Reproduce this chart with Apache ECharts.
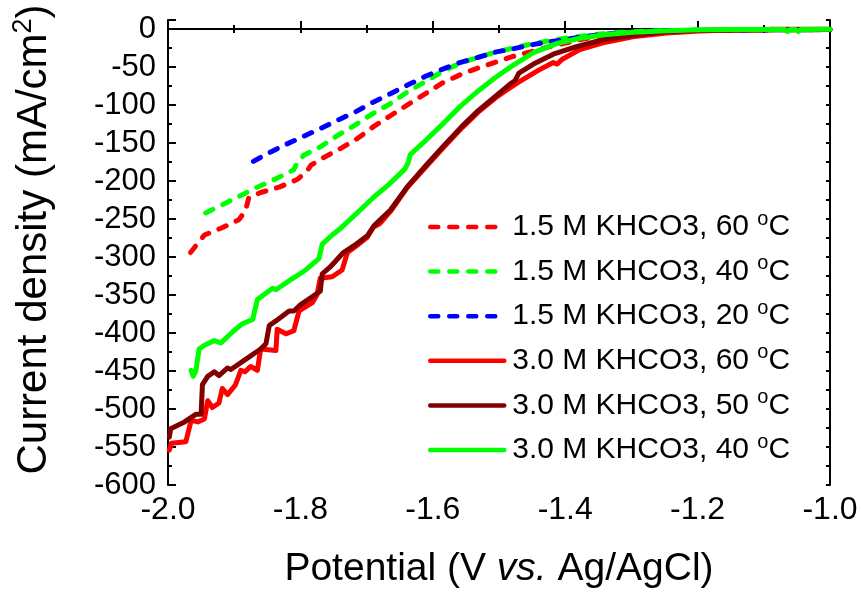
<!DOCTYPE html>
<html>
<head>
<meta charset="utf-8">
<script src="https://cdn.jsdelivr.net/npm/echarts@6/dist/echarts.min.js"></script>
<style>
html,body{margin:0;padding:0;background:#fff;}
#chart{width:861px;height:594px;}
</style>
</head>
<body>
<div id="chart"></div>
<script>
// ---- data: [potential (V vs Ag/AgCl), current density (mA/cm2)] ----
const seriesNames = [
  '1.5 M KHCO3, 60 °C',
  '1.5 M KHCO3, 40 °C',
  '1.5 M KHCO3, 20 °C',
  '3.0 M KHCO3, 60 °C',
  '3.0 M KHCO3, 50 °C',
  '3.0 M KHCO3, 40 °C'
];
const xTicks = [-2.0, -1.8, -1.6, -1.4, -1.2, -1.0];
const yTicks = [-600, -550, -500, -450, -400, -350, -300, -250, -200, -150, -100, -50, 0];

const kh15_60C = [[-1.966,-294],[-1.955,-282],[-1.945,-271],[-1.920,-262],[-1.893,-251],[-1.883,-239],[-1.878,-222],[-1.860,-215],[-1.832,-208],[-1.805,-198],[-1.790,-187],[-1.784,-179],[-1.767,-170],[-1.739,-157],[-1.714,-144],[-1.689,-128],[-1.664,-114],[-1.637,-99],[-1.611,-85],[-1.586,-71],[-1.556,-59],[-1.531,-51],[-1.504,-43],[-1.479,-36],[-1.453,-30],[-1.428,-24],[-1.403,-19],[-1.373,-13],[-1.348,-9.5],[-1.32,-6.5],[-1.28,-4],[-1.24,-2.5],[-1.2,-1.8],[-1.15,-1.3],[-1.1,-1],[-1.05,-0.8],[-1.0,-0.6]];
const kh15_40C = [[-1.943,-242],[-1.918,-231],[-1.890,-219],[-1.865,-208],[-1.837,-197],[-1.810,-185],[-1.805,-176],[-1.795,-166],[-1.770,-155],[-1.744,-140],[-1.717,-126],[-1.692,-112],[-1.664,-98],[-1.639,-83],[-1.611,-69],[-1.586,-56],[-1.559,-45],[-1.531,-37],[-1.504,-30],[-1.479,-25],[-1.453,-20],[-1.428,-16],[-1.40,-12],[-1.373,-9],[-1.348,-6.5],[-1.32,-4.5],[-1.28,-2.8],[-1.24,-2],[-1.2,-1.5],[-1.1,-1],[-1.0,-0.6]];
const kh15_20C = [[-1.871,-174],[-1.850,-164],[-1.825,-153],[-1.795,-141],[-1.770,-131],[-1.744,-120],[-1.717,-109],[-1.692,-97],[-1.664,-85],[-1.639,-74],[-1.611,-62],[-1.586,-53],[-1.559,-44],[-1.531,-37],[-1.504,-30],[-1.479,-26],[-1.453,-21],[-1.428,-17],[-1.401,-14],[-1.373,-10],[-1.348,-7.5],[-1.323,-5.5],[-1.28,-3.5],[-1.24,-2.5],[-1.2,-1.8],[-1.1,-1.1],[-1.0,-0.6]];
const kh30_60C = [[-1.998,-554],[-1.995,-545],[-1.973,-543],[-1.965,-515],[-1.955,-517],[-1.945,-513],[-1.940,-489],[-1.933,-498],[-1.923,-492],[-1.918,-473],[-1.910,-481],[-1.898,-468],[-1.890,-449],[-1.884,-451],[-1.875,-444],[-1.865,-449],[-1.860,-421],[-1.837,-423],[-1.835,-395],[-1.822,-401],[-1.810,-397],[-1.802,-371],[-1.782,-360],[-1.775,-350],[-1.770,-328],[-1.752,-326],[-1.737,-317],[-1.729,-294],[-1.712,-283],[-1.699,-274],[-1.690,-261],[-1.680,-256],[-1.664,-240],[-1.639,-209],[-1.609,-180],[-1.584,-156],[-1.556,-130],[-1.531,-109],[-1.506,-91],[-1.490,-81],[-1.471,-70],[-1.44,-54],[-1.418,-44],[-1.412,-46],[-1.405,-40],[-1.378,-27],[-1.343,-18],[-1.298,-10],[-1.247,-5],[-1.197,-2.5],[-1.148,-1.3],[-1.095,-0.8],[-1.09,-0.3],[-1.0,-0.3]];
const kh30_50C = [[-1.998,-537],[-1.996,-526],[-1.975,-517],[-1.958,-507],[-1.950,-507],[-1.948,-468],[-1.940,-457],[-1.930,-451],[-1.923,-456],[-1.910,-446],[-1.905,-448],[-1.880,-433],[-1.860,-421],[-1.852,-414],[-1.847,-390],[-1.837,-384],[-1.817,-371],[-1.810,-371],[-1.800,-363],[-1.770,-345],[-1.767,-322],[-1.755,-313],[-1.735,-294],[-1.719,-285],[-1.699,-272],[-1.689,-259],[-1.664,-238],[-1.639,-208],[-1.609,-178],[-1.584,-154],[-1.556,-128],[-1.531,-107],[-1.506,-89],[-1.483,-72],[-1.476,-68],[-1.470,-58],[-1.448,-46],[-1.418,-33],[-1.383,-23],[-1.343,-14],[-1.298,-8],[-1.247,-3.5],[-1.2,-1.5],[-1.1,-0.8],[-1.0,-0.4]];
const kh30_40C = [[-1.965,-449],[-1.962,-457],[-1.958,-450],[-1.953,-421],[-1.945,-416],[-1.930,-410],[-1.920,-413],[-1.903,-399],[-1.888,-388],[-1.872,-382],[-1.865,-356],[-1.842,-341],[-1.837,-343],[-1.815,-330],[-1.792,-317],[-1.772,-302],[-1.767,-283],[-1.752,-271],[-1.739,-262],[-1.712,-240],[-1.689,-221],[-1.667,-205],[-1.642,-184],[-1.637,-175],[-1.634,-165],[-1.609,-145],[-1.584,-124],[-1.559,-102],[-1.531,-81],[-1.506,-64],[-1.483,-50],[-1.448,-31],[-1.413,-19],[-1.378,-12],[-1.338,-7],[-1.298,-4],[-1.247,-2],[-1.197,-0.8],[-1.148,-0.5],[-1.068,-0.4],[-1.064,-3],[-1.060,-0.5],[-1.052,-0.5],[-1.048,-3],[-1.044,-0.4],[-1.0,-0.2]];

const seriesData = [kh15_60C, kh15_40C, kh15_20C, kh30_60C, kh30_50C, kh30_40C];
const seriesColors = ['#ff0000', '#00ff00', '#0000ff', '#ff0000', '#800000', '#00ff00'];
const seriesDashed = [true, true, true, false, false, false];

const FONT = '"Liberation Sans", Arial, sans-serif';
const chart = echarts.init(document.getElementById('chart'), null, {renderer: 'canvas'});

const lineAx = {show: true, lineStyle: {color: '#000', width: 2}};
const option = {
  backgroundColor: '#fff',
  animation: false,
  grid: {left: 168, right: 31, top: 20, bottom: 101.5, containLabel: false},
  legend: {
    orient: 'vertical',
    left: 428,
    top: 209,
    padding: 0,
    itemWidth: 74,
    itemHeight: 2,
    itemGap: 8.6,
    data: seriesNames,
    itemStyle: {opacity: 0},
    lineStyle: {width: 4.5},
    formatter: function (n) { return n.replace(' °C', ' {sup|o}C'); },
    textStyle: {
      fontFamily: FONT, fontSize: 30, color: '#000', lineHeight: 36, padding: [0, 0, 0, 3],
      rich: {sup: {fontFamily: FONT, fontSize: 20, verticalAlign: 'top', lineHeight: 22, color: '#000'}}
    }
  },
  xAxis: [
    {
      type: 'value', position: 'bottom', min: -2, max: -1, interval: 0.2,
      axisLine: lineAx,
      axisTick: {show: true, inside: true, length: 8, lineStyle: {color: '#000', width: 2}},
      axisLabel: {show: true, margin: 9, fontFamily: FONT, fontSize: 32, color: '#000',
        formatter: function (v) {
          const t = xTicks.find(function (k) { return Math.abs(k - v) < 1e-6; });
          return t === undefined ? '' : t.toFixed(1);
        }},
      splitLine: {show: false},
      name: 'Potential (V {i|vs.} Ag/AgCl)',
      nameLocation: 'middle', nameGap: 65,
      nameTextStyle: {fontFamily: FONT, fontSize: 39, color: '#000',
        rich: {i: {fontFamily: FONT, fontSize: 39, fontStyle: 'italic', color: '#000'}}}
    },
    {
      type: 'value', position: 'bottom', min: -2, max: -1, interval: 0.1,
      axisLine: {show: false},
      axisTick: {show: true, inside: true, length: 4, lineStyle: {color: '#000', width: 2}},
      axisLabel: {show: false}, splitLine: {show: false}
    },
    {
      type: 'value', position: 'top', min: -2, max: -1, interval: 0.1,
      axisLine: lineAx,
      axisTick: {show: true, inside: true, length: 4, lineStyle: {color: '#000', width: 2}},
      axisLabel: {show: false}, splitLine: {show: false}
    }
  ],
  yAxis: [
    {
      type: 'value', position: 'left', min: -600, max: 12, interval: 50,
      axisLine: lineAx,
      axisTick: {show: true, inside: true, length: 8, lineStyle: {color: '#000', width: 2}},
      axisLabel: {show: true, margin: 12, fontFamily: FONT, fontSize: 31, color: '#000',
        formatter: function (v) { return yTicks.indexOf(Math.round(v)) >= 0 && v <= 0 ? String(Math.round(v)) : ''; }},
      splitLine: {show: false},
      name: 'Current density (mA/cm{sup|2})',
      nameLocation: 'middle', nameGap: 110,
      nameTextStyle: {fontFamily: FONT, fontSize: 42, color: '#000', lineHeight: 48,
        padding: [0, 0, 0, 26],
        rich: {sup: {fontFamily: FONT, fontSize: 27, verticalAlign: 'top', lineHeight: 29, color: '#000'}}}
    },
    {
      type: 'value', position: 'left', min: -600, max: 12, interval: 25,
      axisLine: {show: false},
      axisTick: {show: true, inside: true, length: 4, lineStyle: {color: '#000', width: 2}},
      axisLabel: {show: false}, splitLine: {show: false}
    },
    {
      type: 'value', position: 'right', min: -600, max: 12, interval: 25,
      axisLine: lineAx,
      axisTick: {show: true, inside: true, length: 4, lineStyle: {color: '#000', width: 2}},
      axisLabel: {show: false}, splitLine: {show: false}
    }
  ],
  series: seriesNames.map(function (name, i) {
    return {
      name: name,
      type: 'line',
      xAxisIndex: 0,
      yAxisIndex: 0,
      data: seriesData[i],
      symbol: 'none',
      smooth: false,
      clip: true,
      color: seriesColors[i],
      lineStyle: seriesDashed[i]
        ? {color: seriesColors[i], width: 5, type: [8, 11], cap: 'round'}
        : {color: seriesColors[i], width: 5, cap: 'round', join: 'round'},
      z: 2 + i
    };
  })
};
chart.setOption(option);
</script>
</body>
</html>
